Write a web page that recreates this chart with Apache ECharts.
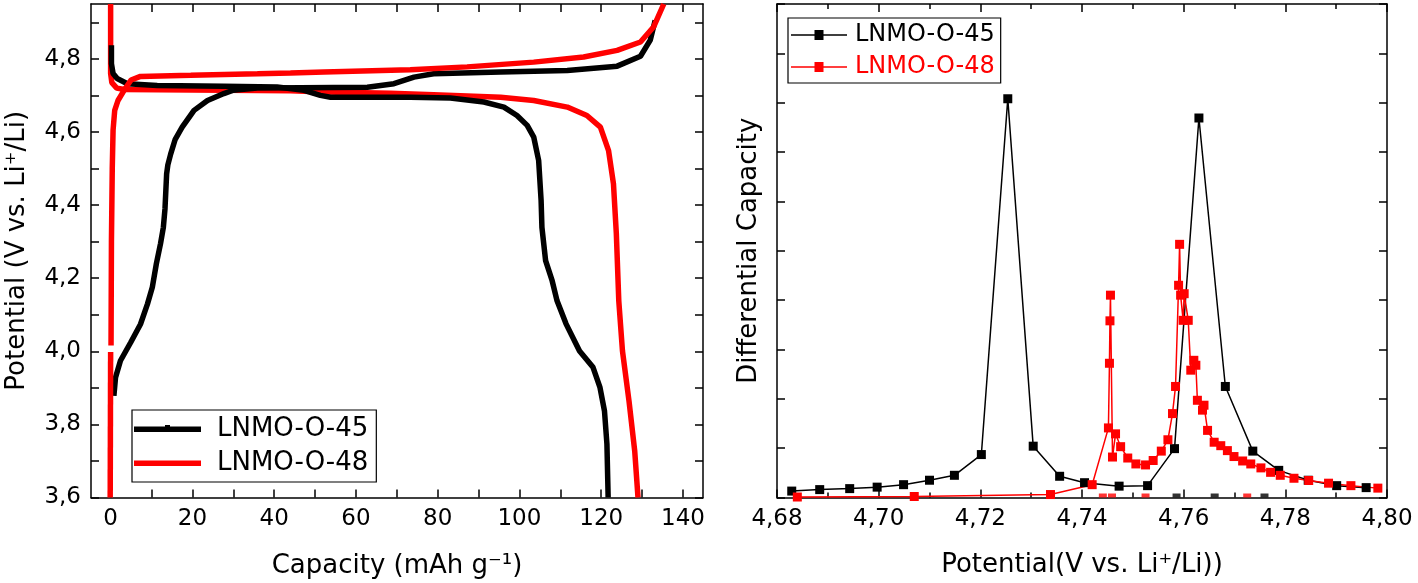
<!DOCTYPE html>
<html><head><meta charset="utf-8">
<script src="https://cdn.jsdelivr.net/npm/echarts@6/dist/echarts.min.js"></script>
<style>html,body{margin:0;padding:0;background:#fff}#c{width:1418px;height:583px}</style>
</head><body><div id="c"></div>
<script>
// ---------- Left panel: potential vs capacity ----------
const capTicks = [0,10,20,30,40,50,60,70,80,90,100,110,120,130,140];
const capLabels = [0,20,40,60,80,100,120,140];
const potTicks = [3.6,3.7,3.8,3.9,4.0,4.1,4.2,4.3,4.4,4.5,4.6,4.7,4.8,4.9];
const potLabels = [3.6,3.8,4.0,4.2,4.4,4.6,4.8];

const black45ChargeCap = [0.8,1.2,2.4,4.9,7.3,9.0,10.2,11.2,12.2,12.9,13.3,13.7,14.0,14.7,15.8,17.5,20.4,23.7,27.7,30.0,35.9,46.5,62.8,69.3,74.2,79.0,95.4,111.7,123.9,129.6,132.0,133.2];
const black45ChargeV   = [3.878,3.928,3.974,4.024,4.074,4.129,4.175,4.24,4.294,4.339,4.39,4.485,4.51,4.54,4.58,4.613,4.659,4.686,4.705,4.714,4.72,4.721,4.722,4.732,4.75,4.759,4.764,4.768,4.78,4.807,4.851,4.905];

const black45DischargeCap = [0.2,0.2,0.6,1.6,4.1,11.4,27.7,40.7,47.3,51.3,53.8,73.3,83.1,91.3,96.2,99.4,101.9,103.5,104.7,105.3,105.5,106.4,108.0,109.2,111.4,114.7,118.0,119.7,120.8,121.4,121.7];
const black45DischargeV   = [4.837,4.787,4.76,4.746,4.732,4.727,4.725,4.723,4.714,4.700,4.695,4.695,4.693,4.682,4.668,4.645,4.618,4.586,4.522,4.412,4.339,4.248,4.193,4.138,4.075,4.001,3.956,3.901,3.837,3.746,3.6];

const red48TailCap = [-0.1,0.0];
const red48TailV   = [3.6,3.998];
const red48ChargeCap = [0.1,0.2,0.4,0.6,1.0,1.8,3.4,5.0,7.3,19.6,35.9,44.0,52.2,73.3,87.2,103.5,115.7,123.9,129.6,132.8,135.3];
const red48ChargeV   = [4.016,4.3,4.5,4.605,4.659,4.686,4.716,4.742,4.752,4.755,4.759,4.761,4.764,4.77,4.778,4.791,4.805,4.823,4.846,4.887,4.95];

const red48DischargeCap = [0.0,0.0,0.3,1.5,3.4,20.0,44.0,52.2,68.5,79.0,95.4,103.5,111.7,116.5,119.8,121.8,123.0,123.7,124.3,125.2,126.8,128.2,129.0];
const red48DischargeV   = [4.95,4.76,4.735,4.72,4.716,4.715,4.713,4.709,4.706,4.702,4.695,4.686,4.668,4.645,4.613,4.549,4.458,4.322,4.138,4.001,3.864,3.727,3.6];

// ---------- Right panel: differential capacity ----------
const dqTicks = [0,1,2,3,4,5,6,7,8,9,10];
const black45X = [4.6829,4.6884,4.6943,4.6997,4.7049,4.7100,4.7149,4.7202,4.7254,4.7304,4.7356,4.7405,4.7473,4.7529,4.7582,4.7630,4.7682,4.7736,4.7787,4.7845,4.7901,4.7959];
const black45Y = [0.13,0.16,0.18,0.21,0.26,0.35,0.45,0.87,8.08,1.04,0.43,0.30,0.23,0.24,0.99,7.69,2.25,0.94,0.55,0.35,0.24,0.20];

const red48X = [4.6840,4.7070,4.7338,4.7420,4.7452,4.7454,4.7455,4.7456,4.7460,4.7466,4.7476,4.7490,4.7506,4.7525,4.7540,4.7556,4.7569,4.7578,4.7584,4.7590,4.7592,4.7594,4.7599,4.7601,4.7609,4.7614,4.7620,4.7624,4.7627,4.7637,4.7640,4.7647,4.7660,4.7673,4.7686,4.7699,4.7716,4.7732,4.7752,4.7771,4.7790,4.7817,4.7846,4.7885,4.7929,4.7982];
const red48Y = [0.01,0.02,0.06,0.26,1.41,2.72,3.58,4.10,0.82,1.29,1.03,0.80,0.68,0.66,0.75,0.94,1.17,1.70,2.25,4.30,5.13,4.10,3.59,4.13,3.59,2.58,2.78,2.68,1.97,1.77,1.87,1.36,1.12,1.05,0.95,0.83,0.74,0.68,0.60,0.51,0.45,0.39,0.345,0.29,0.24,0.19];

// points lying on the bottom axis (mostly hidden)
const black45BaseX = [4.7586,4.7661,4.7759];
const red48BaseX = [4.7441,4.7459,4.7525,4.7725];

// ---------- build ----------
const FONT = 'DejaVu Sans';
const BLACK = '#000000', RED = '#ff0000';
const zip = (xs, ys) => xs.map((x, i) => [x, ys[i]]);
const comma = d => v => Number(v).toFixed(d).replace('.', ',');

const frameLine = {show: true, onZero: false, lineStyle: {color: BLACK, width: 1.5}};
const tickStyle = {lineStyle: {color: BLACK, width: 1.5}};
const labelStyle = {fontFamily: FONT, fontSize: 23, color: BLACK};
const nameStyle = {fontFamily: FONT, fontSize: 26, color: BLACK};

const leftX = {min: -4.8, max: 144.9};
const leftY = {min: 3.6, max: 4.95};
const rightX = {min: 4.68, max: 4.80};
const rightY = {min: 0, max: 10};

function mirrorAxis(base, pos, grid, ticks) {
  const a = Object.assign({
    type: 'value', position: pos, gridIndex: grid,
    axisLine: frameLine, splitLine: {show: false},
    axisLabel: {show: false},
    axisTick: Object.assign({show: true, inside: true, length: 8}, tickStyle)
  }, base);
  if (ticks) a.axisTick.customValues = ticks;
  return a;
}

const xAxes = [
  Object.assign(mirrorAxis(leftX, 'bottom', 0, capTicks), {
    name: 'Capacity (mAh g⁻¹)', nameLocation: 'middle', nameGap: 56, nameTextStyle: nameStyle,
    axisLabel: Object.assign({show: true, customValues: capLabels, margin: 10}, labelStyle)
  }),
  mirrorAxis(leftX, 'top', 0, capTicks),
  Object.assign(mirrorAxis(Object.assign({interval: 0.02}, rightX), 'bottom', 1, null), {
    name: 'Potential(V vs. Li⁺/Li))', nameLocation: 'middle', nameGap: 55, nameTextStyle: nameStyle,
    minorTick: Object.assign({show: true, splitNumber: 2, length: 5}, tickStyle),
    axisLabel: Object.assign({show: true, formatter: comma(2), margin: 10, showMinLabel: true, showMaxLabel: true, interval: 0}, labelStyle)
  }),
  Object.assign(mirrorAxis(Object.assign({interval: 0.02}, rightX), 'top', 1, null), {
    minorTick: Object.assign({show: true, splitNumber: 2, length: 5}, tickStyle)
  })
];
const yAxes = [
  Object.assign(mirrorAxis(leftY, 'left', 0, potTicks), {
    name: 'Potential (V vs. Li⁺/Li)', nameLocation: 'middle', nameGap: 61, nameRotate: 90, nameTextStyle: nameStyle,
    axisLabel: Object.assign({show: true, customValues: potLabels, formatter: comma(1), margin: 10}, labelStyle)
  }),
  mirrorAxis(leftY, 'right', 0, potTicks),
  Object.assign(mirrorAxis(rightY, 'left', 1, dqTicks), {
    name: 'Differential Capacity', nameLocation: 'middle', nameGap: 15, nameRotate: 90, nameTextStyle: nameStyle
  }),
  mirrorAxis(rightY, 'right', 1, dqTicks)
];

function thick(name, color, data) {
  return {type: 'line', name, xAxisIndex: 0, yAxisIndex: 0, data, symbol: 'none', showSymbol: false,
    lineStyle: {color, width: 5.5}, itemStyle: {color}, clip: true, z: 2};
}
function marked(name, color, data) {
  return {type: 'line', name, xAxisIndex: 2, yAxisIndex: 2, data, symbol: 'rect', symbolSize: 9, showSymbol: true,
    lineStyle: {color, width: 1.5}, itemStyle: {color}, clip: true, z: 2};
}
function base(name, color, xs) {
  return {type: 'scatter', name, xAxisIndex: 2, yAxisIndex: 2, data: xs.map(x => [x, 0]),
    symbol: 'rect', symbolSize: [8, 4], symbolOffset: [0, -2], itemStyle: {color}, z: 1};
}

const leftIconBlack = 'path://M0,1.5 H31 V0 H36 V1.5 H67 V7 H0 Z M78,0 L78,8';
const leftIconRed = 'path://M0,1.5 H67 V7 H0 Z M78,0 L78,8';
const rightIcon = 'path://M0,4.25 H56 V5.75 H0 Z M23.5,0 H32.5 V10 H23.5 Z M59,0 L59,10';

const option = {
  backgroundColor: '#ffffff',
  animation: false,
  grid: [
    {left: 91, right: 715, top: 4, bottom: 85.5, outerBoundsMode: 'none'},
    {left: 777, right: 31, top: 4, bottom: 85.5, outerBoundsMode: 'none'}
  ],
  xAxis: xAxes,
  yAxis: yAxes,
  legend: [
    {orient: 'vertical', left: 132, top: 410, padding: [5, 8, 5, 2], itemGap: 6,
     itemWidth: 78, itemHeight: 8, symbolKeepAspect: false, selectedMode: false,
     borderColor: BLACK, borderWidth: 1.2,
     textStyle: {fontFamily: FONT, fontSize: 26, color: BLACK, lineHeight: 28},
     data: [
       {name: 'LNMO-O-45', icon: leftIconBlack, itemStyle: {color: BLACK, borderWidth: 0}},
       {name: 'LNMO-O-48', icon: leftIconRed, itemStyle: {color: RED, borderWidth: 0}}
     ]},
    {orient: 'vertical', left: 788, top: 18, padding: [4, 6, 3, 3], itemGap: 6,
     itemWidth: 59, itemHeight: 10, symbolKeepAspect: false, selectedMode: false,
     borderColor: BLACK, borderWidth: 1.2,
     textStyle: {fontFamily: FONT, fontSize: 24, color: BLACK, lineHeight: 26},
     data: [
       {name: 'LNMO-O-45', icon: rightIcon, itemStyle: {color: BLACK, borderWidth: 0}, textStyle: {color: BLACK}},
       {name: 'LNMO-O-48', icon: rightIcon, itemStyle: {color: RED, borderWidth: 0}, textStyle: {color: RED}}
     ]}
  ],
  series: [
    thick('LNMO-O-48', RED, zip(red48DischargeCap, red48DischargeV)),
    thick('LNMO-O-45', BLACK, zip(black45DischargeCap, black45DischargeV)),
    thick('LNMO-O-45', BLACK, zip(black45ChargeCap, black45ChargeV)),
    thick('LNMO-O-48', RED, zip(red48TailCap, red48TailV)),
    thick('LNMO-O-48', RED, zip(red48ChargeCap, red48ChargeV)),
    base('LNMO-O-45', BLACK, black45BaseX),
    base('LNMO-O-48', RED, red48BaseX),
    marked('LNMO-O-45', BLACK, zip(black45X, black45Y)),
    marked('LNMO-O-48', RED, zip(red48X, red48Y))
  ]
};
const chart = echarts.init(document.getElementById('c'), null, {renderer: 'canvas'});
chart.setOption(option);
</script>
</body></html>
